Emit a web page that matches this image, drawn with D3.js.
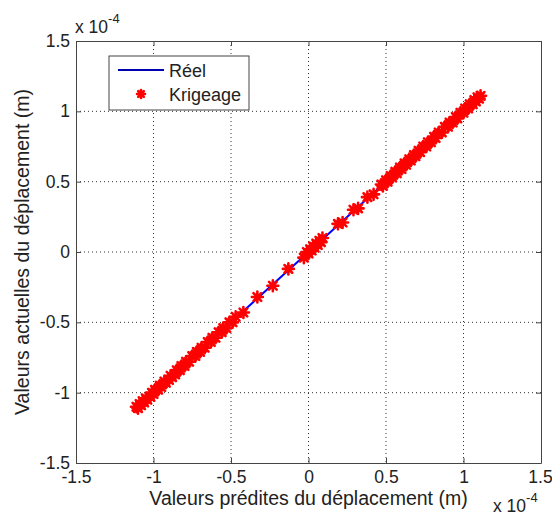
<html>
<head>
<script src="https://d3js.org/d3.v7.min.js"></script>
<style>
  body { margin: 0; background: #fff; }
  text { font-family: "Liberation Sans", Arial, sans-serif; fill: #222; }
</style>
</head>
<body>
<script>
// values in units of 1e-4 m
var predicted = [
  -1.11, -1.10, -1.09, -1.08, -1.07, -1.06, -1.05, -1.04, -1.02, -1.01, -1.00, -0.99,
  -0.97, -0.96, -0.95, -0.93, -0.92, -0.90, -0.89, -0.88, -0.86, -0.85, -0.83, -0.82,
  -0.80, -0.79, -0.77, -0.75, -0.73, -0.72, -0.70, -0.69, -0.67, -0.65, -0.63, -0.62,
  -0.60, -0.58, -0.56, -0.55, -0.53, -0.51, -0.49, -0.47,
  -0.42, -0.33, -0.23, -0.13, -0.03, -0.01,
  0.00, 0.01, 0.02, 0.03, 0.04, 0.05, 0.06, 0.07, 0.08, 0.09,
  0.19, 0.22, 0.29, 0.32, 0.38, 0.42,
  0.47, 0.48, 0.50, 0.51, 0.53, 0.54, 0.56, 0.57, 0.59, 0.60, 0.62, 0.63, 0.65, 0.66,
  0.68, 0.69, 0.71, 0.72, 0.74, 0.76, 0.77, 0.79, 0.81, 0.82, 0.84, 0.86, 0.88, 0.90,
  0.91, 0.93, 0.95, 0.96, 0.98, 1.00, 1.01, 1.03, 1.04, 1.06, 1.07, 1.08, 1.09, 1.10, 1.11
];
var actual = [
  -1.10, -1.11, -1.08, -1.09, -1.06, -1.07, -1.04, -1.05, -1.03, -1.00, -1.01, -0.98,
  -0.98, -0.95, -0.96, -0.92, -0.93, -0.91, -0.88, -0.89, -0.87, -0.84, -0.84, -0.81,
  -0.81, -0.78, -0.78, -0.74, -0.74, -0.71, -0.71, -0.68, -0.68, -0.64, -0.64, -0.61,
  -0.61, -0.57, -0.57, -0.54, -0.54, -0.50, -0.50, -0.46,
  -0.43, -0.32, -0.24, -0.12, -0.04, 0.00,
  -0.01, 0.02, 0.01, 0.04, 0.03, 0.06, 0.05, 0.08, 0.07, 0.10,
  0.20, 0.21, 0.30, 0.31, 0.39, 0.41,
  0.48, 0.47, 0.51, 0.50, 0.54, 0.53, 0.57, 0.56, 0.60, 0.59, 0.63, 0.62, 0.66, 0.65,
  0.69, 0.68, 0.72, 0.71, 0.75, 0.75, 0.78, 0.78, 0.82, 0.81, 0.85, 0.85, 0.89, 0.89,
  0.92, 0.92, 0.96, 0.95, 0.99, 0.99, 1.02, 1.02, 1.05, 1.05, 1.08, 1.07, 1.10, 1.09, 1.11
];
var reelLine = [-1.11, 1.11];
var ticks = [-1.5, -1, -0.5, 0, 0.5, 1, 1.5];
var tickLabels = ["-1.5", "-1", "-0.5", "0", "0.5", "1", "1.5"];

var W = 552, H = 517;
var margin = {top: 41, right: 11, bottom: 54, left: 76};
var width = W - margin.left - margin.right;
var height = H - margin.top - margin.bottom;

var svg = d3.select("body").append("svg")
  .attr("width", W)
  .attr("height", H);

var g = svg.append("g")
  .attr("transform", "translate(" + margin.left + "," + margin.top + ")");

var x = d3.scaleLinear().domain([-1.5, 1.5]).range([0, width]);
var y = d3.scaleLinear().domain([-1.5, 1.5]).range([height, 0]);

// grid
g.selectAll(".gx").data(ticks.slice(1, -1)).enter().append("line")
  .attr("x1", d => x(d)).attr("x2", d => x(d))
  .attr("y1", 0).attr("y2", height)
  .attr("stroke", "#333").attr("stroke-width", 1)
  .attr("stroke-dasharray", "1,3");
g.selectAll(".gy").data(ticks.slice(1, -1)).enter().append("line")
  .attr("y1", d => y(d)).attr("y2", d => y(d))
  .attr("x1", 0).attr("x2", width)
  .attr("stroke", "#333").attr("stroke-width", 1)
  .attr("stroke-dasharray", "1,3");

// axes (MATLAB box with inward ticks)
var fmt = (d, i) => tickLabels[i];
var axB = d3.axisBottom(x).tickValues(ticks).tickFormat(fmt).tickSizeInner(-5).tickSizeOuter(0).tickPadding(8);
var axL = d3.axisLeft(y).tickValues(ticks).tickFormat(fmt).tickSizeInner(-5).tickSizeOuter(0).tickPadding(6);
var axT = d3.axisTop(x).tickValues(ticks).tickFormat("").tickSizeInner(-5).tickSizeOuter(0);
var axR = d3.axisRight(y).tickValues(ticks).tickFormat("").tickSizeInner(-5).tickSizeOuter(0);

function style(sel) {
  sel.selectAll("path, line").attr("stroke", "#444");
  sel.selectAll("text").attr("font-size", 17.5).attr("fill", "#222")
    .attr("font-family", "Liberation Sans, Arial, sans-serif");
}
var bx = g.append("g").attr("transform", "translate(0," + height + ")").call(axB).call(style);
// keep the last label inside the window
bx.selectAll(".tick text").filter(d => d === 1.5).attr("dx", -1);
g.append("g").call(axL).call(style);
g.append("g").call(axT).call(style);
g.append("g").attr("transform", "translate(" + width + ",0)").call(axR).call(style);

// Réel line
var line = d3.line().x(d => x(d)).y(d => y(d));
g.append("path").datum(reelLine)
  .attr("d", line)
  .attr("fill", "none")
  .attr("stroke", "#0000ff")
  .attr("stroke-width", 2);

// asterisk marker
function star(s) {
  var a = s * 0.7;
  return "M" + (-s) + ",0L" + s + ",0M0," + (-s) + "L0," + s +
    "M" + (-a) + "," + (-a) + "L" + a + "," + a +
    "M" + (-a) + "," + a + "L" + a + "," + (-a);
}

g.selectAll(".pt").data(predicted).enter().append("path")
  .attr("transform", (d, i) => "translate(" + x(d) + "," + y(actual[i]) + ")")
  .attr("d", star(5.5))
  .attr("fill", "none")
  .attr("stroke", "#ff0000")
  .attr("stroke-width", 2.6)
  .attr("stroke-linecap", "round");

// legend
var lg = svg.append("g").attr("transform", "translate(109,56)");
lg.append("rect").attr("width", 140).attr("height", 54)
  .attr("fill", "#fff").attr("stroke", "#444").attr("stroke-width", 1);
lg.append("line").attr("x1", 9).attr("x2", 55).attr("y1", 14).attr("y2", 14)
  .attr("stroke", "#0000b0").attr("stroke-width", 2);
lg.append("path").attr("transform", "translate(32,38)").attr("d", star(4))
  .attr("fill", "none").attr("stroke", "#ff0000").attr("stroke-width", 2.6)
  .attr("stroke-linecap", "round");
lg.append("text").attr("x", 60).attr("y", 21).attr("font-size", 18).text("Réel");
lg.append("text").attr("x", 60).attr("y", 45).attr("font-size", 18).text("Krigeage");

// axis titles
svg.append("text")
  .attr("x", margin.left + width / 2).attr("y", 505)
  .attr("text-anchor", "middle").attr("font-size", 19.5)
  .text("Valeurs prédites du déplacement (m)");
svg.append("text")
  .attr("transform", "translate(29," + (margin.top + height / 2) + ") rotate(-90)")
  .attr("text-anchor", "middle").attr("font-size", 19.5)
  .text("Valeurs actuelles du déplacement (m)");

// exponent labels
function expo(xp, yp) {
  var t = svg.append("text").attr("x", xp).attr("y", yp).attr("font-size", 17.5);
  t.append("tspan").text("x 10");
  t.append("tspan").attr("dy", -10).attr("font-size", 13).text("-4");
}
expo(75, 33);
expo(493, 512);
</script>
</body>
</html>
